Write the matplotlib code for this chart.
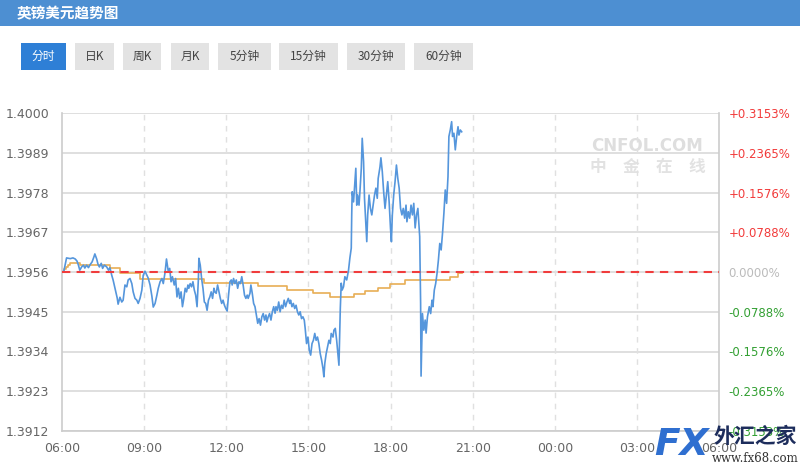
import matplotlib
matplotlib.use('Agg')
import matplotlib.pyplot as plt
from matplotlib.patches import Rectangle

plt.rcParams['font.family'] = ['Noto Sans CJK SC', 'DejaVu Sans']

# ---------------- data ----------------
title = '英镑美元趋势图'
buttons = ['分时', '日K', '周K', '月K', '5分钟', '15分钟', '30分钟', '60分钟']
base_price = 1.3956
y_ticks = [1.3912, 1.3923, 1.3934, 1.3945, 1.3956, 1.3967, 1.3978, 1.3989, 1.4000]
y_tick_labels = ['1.3912', '1.3923', '1.3934', '1.3945', '1.3956', '1.3967', '1.3978', '1.3989', '1.4000']
pct_labels = ['-0.3153%', '-0.2365%', '-0.1576%', '-0.0788%', '0.0000%',
              '+0.0788%', '+0.1576%', '+0.2365%', '+0.3153%']
x_tick_minutes = [0, 180, 360, 540, 720, 900, 1080, 1260, 1440]
x_tick_labels = ['06:00', '09:00', '12:00', '15:00', '18:00', '21:00', '00:00', '03:00', '06:00']

# minutes after 06:00
price_minutes = [
    0, 4, 10, 18, 24, 29, 33, 36, 39, 43, 47, 50, 54, 58, 62, 66, 70, 72, 76, 79,
    82, 86, 89, 93, 98, 102, 105, 109, 112, 117, 121, 123, 127, 131, 134, 138, 142, 145, 149, 153,
    156, 160, 164, 167, 171, 175, 178, 182, 186, 189, 193, 197, 200, 204, 208, 211, 215, 219, 222, 226,
    229, 231, 233, 236, 239, 242, 246, 249, 252, 255, 258, 261, 264, 267, 270, 273, 276, 278, 281, 284,
    287, 290, 293, 296, 299, 300, 303, 306, 309, 312, 315, 318, 321, 324, 327, 330, 333, 335, 338, 341,
    344, 347, 350, 353, 356, 359, 362, 365, 368, 371, 373, 376, 379, 382, 385, 388, 391, 394, 397, 400,
    403, 406, 408, 412, 414, 417, 420, 423, 426, 429, 432, 435, 438, 441, 444, 447, 449, 452, 455, 458,
    461, 464, 467, 469, 472, 475, 478, 481, 484, 487, 490, 493, 496, 499, 501, 504, 507, 510, 513, 516,
    519, 522, 525, 528, 531, 533, 536, 539, 542, 545, 548, 551, 554, 557, 560, 563, 566, 569, 572, 574,
    576, 579, 582, 585, 588, 590, 594, 596, 599, 602, 605, 607, 610, 612, 614, 617, 620, 624, 628, 631,
    634, 635, 636, 639, 641, 644, 646, 648, 651, 653, 656, 658, 661, 663, 666, 668, 670, 673, 676, 679,
    682, 685, 688, 691, 693, 697, 699, 702, 705, 708, 711, 714, 717, 720, 722, 724, 727, 730, 733, 736,
    739, 742, 745, 748, 751, 754, 756, 759, 762, 765, 768, 771, 774, 777, 780, 784, 786, 787, 790, 793,
    796, 798, 801, 805, 808, 811, 813, 816, 819, 822, 825, 828, 831, 834, 837, 840, 843, 846, 848, 851,
    854, 856, 859, 862, 865, 868, 870, 873, 876,
]
price_values = [
    1.39560, 1.39562, 1.39599, 1.39597, 1.39599, 1.39596, 1.39590, 1.39579, 1.39565, 1.39574,
    1.39579, 1.39571, 1.39579, 1.39572, 1.39581, 1.39588, 1.39602, 1.39610, 1.39596, 1.39581,
    1.39574, 1.39584, 1.39570, 1.39579, 1.39574, 1.39565, 1.39572, 1.39551, 1.39538, 1.39510,
    1.39488, 1.39471, 1.39490, 1.39477, 1.39482, 1.39524, 1.39519, 1.39538, 1.39542, 1.39528,
    1.39505, 1.39487, 1.39482, 1.39473, 1.39487, 1.39510, 1.39551, 1.39562, 1.39551, 1.39543,
    1.39524, 1.39493, 1.39463, 1.39473, 1.39496, 1.39515, 1.39533, 1.39542, 1.39528, 1.39560,
    1.39596, 1.39579, 1.39561, 1.39570, 1.39533, 1.39547, 1.39524, 1.39542, 1.39491, 1.39515,
    1.39487, 1.39505, 1.39464, 1.39487, 1.39515, 1.39505, 1.39524, 1.39515, 1.39528, 1.39519,
    1.39533, 1.39510, 1.39496, 1.39464, 1.39542, 1.39598, 1.39579, 1.39542, 1.39515, 1.39477,
    1.39473, 1.39454, 1.39482, 1.39491, 1.39505, 1.39487, 1.39515, 1.39505, 1.39501, 1.39524,
    1.39505, 1.39487, 1.39473, 1.39482, 1.39468, 1.39459, 1.39452, 1.39496, 1.39533, 1.39538,
    1.39524, 1.39542, 1.39528, 1.39538, 1.39515, 1.39533, 1.39528, 1.39547, 1.39524, 1.39496,
    1.39487, 1.39496, 1.39487, 1.39501, 1.39524, 1.39501, 1.39473, 1.39464, 1.39441, 1.39418,
    1.39431, 1.39413, 1.39436, 1.39445, 1.39427, 1.39441, 1.39422, 1.39436, 1.39445, 1.39427,
    1.39450, 1.39464, 1.39446, 1.39464, 1.39454, 1.39477, 1.39450, 1.39468, 1.39459, 1.39482,
    1.39464, 1.39477, 1.39487, 1.39473, 1.39482, 1.39464, 1.39473, 1.39459, 1.39468, 1.39450,
    1.39441, 1.39450, 1.39431, 1.39436, 1.39427, 1.39404, 1.39362, 1.39380, 1.39344, 1.39330,
    1.39362, 1.39371, 1.39390, 1.39371, 1.39380, 1.39362, 1.39334, 1.39316, 1.39293, 1.39270,
    1.39307, 1.39334, 1.39353, 1.39371, 1.39362, 1.39390, 1.39380, 1.39399, 1.39404, 1.39371,
    1.39330, 1.39302, 1.39460, 1.39529, 1.39510, 1.39519, 1.39547, 1.39538, 1.39565, 1.39599,
    1.39626, 1.39718, 1.39782, 1.39754, 1.39792, 1.39847, 1.39745, 1.39773, 1.39745, 1.39782,
    1.39847, 1.39930, 1.39865, 1.39764, 1.39690, 1.39644, 1.39718, 1.39773, 1.39736, 1.39718,
    1.39745, 1.39773, 1.39792, 1.39764, 1.39819, 1.39851, 1.39876, 1.39838, 1.39782, 1.39736,
    1.39773, 1.39810, 1.39754, 1.39681, 1.39644, 1.39718, 1.39773, 1.39810, 1.39856, 1.39819,
    1.39792, 1.39736, 1.39718, 1.39736, 1.39709, 1.39745, 1.39699, 1.39727, 1.39709, 1.39745,
    1.39718, 1.39750, 1.39682, 1.39718, 1.39736, 1.39658, 1.39474, 1.39272, 1.39445, 1.39399,
    1.39427, 1.39391, 1.39436, 1.39464, 1.39445, 1.39482, 1.39464, 1.39510, 1.39528, 1.39556,
    1.39593, 1.39639, 1.39621, 1.39667, 1.39722, 1.39787, 1.39750, 1.39824, 1.39935, 1.39953,
    1.39976, 1.39935, 1.39944, 1.39898, 1.39935, 1.39962, 1.39939, 1.39953, 1.39948,
]

avg_minutes = [0, 4, 9, 13, 18, 39, 105, 127, 171, 311, 430, 493, 550, 588, 640, 664, 693,
               719, 752, 851, 868, 876]
avg_values = [1.39560, 1.39567, 1.39574, 1.39579, 1.39584, 1.39579, 1.39570, 1.39558, 1.39542,
              1.39530, 1.39521, 1.39511, 1.39502, 1.39491, 1.39499, 1.39508, 1.39517, 1.39528,
              1.39538, 1.39547, 1.39556, 1.39556]

# ---------------- figure ----------------
W, H = 800, 468
fig = plt.figure(figsize=(8, 4.68), dpi=100)
fig.patch.set_facecolor('white')

# background overlay in pixel coordinates
bg = fig.add_axes([0, 0, 1, 1], zorder=0)
bg.set_xlim(0, W)
bg.set_ylim(H, 0)
bg.axis('off')
bg.add_patch(Rectangle((0, 0), W, 26, facecolor='#4d8fd2', edgecolor='none'))
bg.text(17, 13.5, title, color='white', fontsize=10.5, fontweight='bold', va='center', ha='left')

btn_x = [(21, 66), (75, 114), (123, 161), (171, 209), (218, 271), (279, 338), (347, 405), (414, 473)]
for i, (lab, (x0, x1)) in enumerate(zip(buttons, btn_x)):
    active = (i == 0)
    bg.add_patch(Rectangle((x0, 43), x1 - x0, 27,
                           facecolor='#2e7fd6' if active else '#e3e3e3', edgecolor='none'))
    bg.text((x0 + x1) / 2, 56.5, lab, color='white' if active else '#444444',
            fontsize=8.5, ha='center', va='center')

# watermark cnfol
bg.text(647, 146, 'CNFOL.COM', color='#dedede', fontsize=12, fontweight='bold',
        ha='center', va='center', family='DejaVu Sans')
for j, ch in enumerate('中金在线'):
    bg.text(598 + j * 33, 167, ch, color='#e2e2e2', fontsize=12, fontweight='bold',
            ha='center', va='center')

# main axes
L, R, T, B = 62, 719, 113, 431
ax = fig.add_axes([L / W, 1 - B / H, (R - L) / W, (B - T) / H], zorder=2)
ax.patch.set_alpha(0)
ax.set_xlim(0, 1440)
ax.set_ylim(y_ticks[0], y_ticks[-1])

for yv in y_ticks:
    ax.axhline(yv, color='#dcdcdc', lw=1.3, zorder=1)
for xm in x_tick_minutes[1:-1]:
    ax.axvline(xm, color='#e0e0e0', lw=1.0, ls=(0, (4, 4)), zorder=1)

ax.plot(avg_minutes, avg_values, color='#e8ae55', lw=1.2, drawstyle='steps-post', zorder=3)
ax.plot(price_minutes, price_values, color='#5596dc', lw=1.2, zorder=4)
ax.axhline(base_price, color='#f03c3c', lw=1.5, ls=(0, (4, 3)), zorder=5)

for s in ['top']:
    ax.spines[s].set_visible(False)
for s in ['left', 'bottom', 'right']:
    ax.spines[s].set_color('#cccccc')
    ax.spines[s].set_linewidth(1.2)

ax.set_yticks(y_ticks)
ax.set_yticklabels(y_tick_labels)
ax.set_xticks(x_tick_minutes)
ax.set_xticklabels(x_tick_labels)
ax.tick_params(axis='y', length=0, pad=9, labelsize=9, labelcolor='#666666')
ax.tick_params(axis='x', length=0, pad=8, labelsize=9, labelcolor='#666666')
for t in ax.get_yticklabels() + ax.get_xticklabels():
    t.set_family('DejaVu Sans')

ax2 = ax.twinx()
ax2.set_ylim(y_ticks[0], y_ticks[-1])
ax2.set_yticks(y_ticks)
ax2.set_yticklabels(pct_labels)
ax2.tick_params(axis='y', length=0, pad=7, labelsize=8.5)
for s in ax2.spines.values():
    s.set_visible(False)
for t, lab in zip(ax2.get_yticklabels(), pct_labels):
    t.set_family('DejaVu Sans')
    if lab.startswith('+'):
        t.set_color('#f23b3b')
    elif lab.startswith('-'):
        t.set_color('#33a033')
    else:
        t.set_color('#bbbbbb')

# fx68 watermark on top
top = fig.add_axes([0, 0, 1, 1], zorder=10)
top.set_xlim(0, W)
top.set_ylim(H, 0)
top.axis('off')
top.patch.set_alpha(0)
top.text(654, 445, 'FX', color='#2f6fd0', fontsize=27, fontweight='bold', style='italic',
         ha='left', va='center', family='DejaVu Sans')
top.text(755, 436, '外汇之家', color='#1d2d5c', fontsize=15, fontweight='bold',
         ha='center', va='center')
top.text(755, 459, 'www.fx68.com', color='#333333', fontsize=8.5,
         ha='center', va='center', family='DejaVu Serif')

fig.savefig('out.png', dpi=100)
